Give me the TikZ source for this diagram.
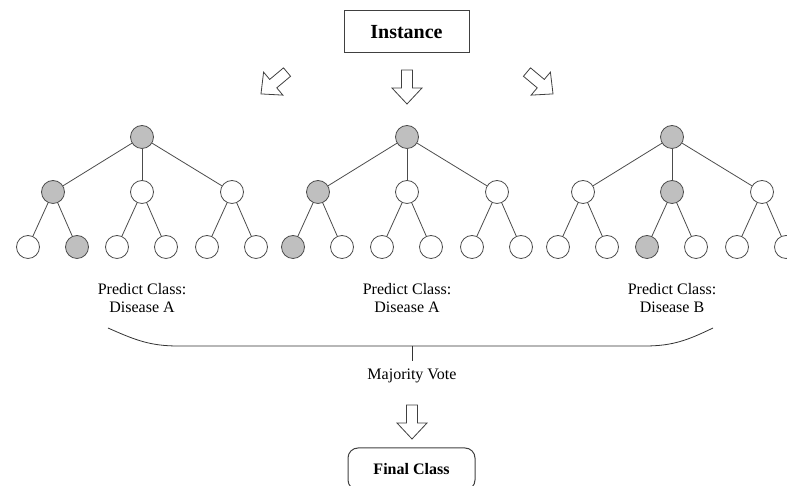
\documentclass[tikz,border=0pt]{standalone}
\usepackage{fontspec}
\setmainfont{Liberation Serif}
\begin{document}
\begin{tikzpicture}[x=1pt,y=1pt,
  tn/.style={circle,draw=black!70,line width=0.8pt,minimum size=23pt,inner sep=0pt},
  edge/.style={draw=black!70,line width=0.8pt},
  lbl/.style={font=\fontsize{16}{18}\selectfont,align=center,inner sep=0pt},
  barrow/.style={draw=black!75,line width=0.8pt,fill=white,line join=miter},
  boxst/.style={draw=black!75,line width=1pt,inner sep=0pt}
]
\useasboundingbox (0,0) rectangle (787,486);
\clip (0,0) rectangle (787,486);

\newcommand\blockarrow[3]{%
  \draw[barrow,shift={(#1,#2)},rotate=#3]
    (-17,-5.5) -- (1,-5.5) -- (1,-15) -- (17,0) -- (1,15) -- (1,5.5) -- (-17,5.5) -- cycle;}

% Instance box
\node[boxst,minimum width=125pt,minimum height=42pt,font=\bfseries\fontsize{20}{24}\selectfont] (inst) at (406.5,454) {Instance};

% block arrows at top
\blockarrow{274}{403}{-140}
\blockarrow{407}{399}{-90}
\blockarrow{540}{403}{-40}

% trees
\foreach \t/\cx/\hm/\hl/\dis in {1/142/1/2/A, 2/407/1/1/A, 3/672/2/3/B} {
  \node[tn,fill=black!25] (t\t r) at (\cx,349) {};
  \foreach \m/\dx in {1/-89,2/0,3/90} {
    \ifnum\m=\hm \def\ff{black!25}\else\def\ff{white}\fi
    \node[tn,fill=\ff] (t\t m\m) at (\cx+\dx,294) {};
    \draw[edge] (t\t r) -- (t\t m\m);
  }
  \foreach \l/\dx/\p in {1/-114/1,2/-65/1,3/-25/2,4/24/2,5/65/3,6/114/3} {
    \ifnum\l=\hl \def\ff{black!25}\else\def\ff{white}\fi
    \node[tn,fill=\ff] (t\t l\l) at (\cx+\dx,239) {};
    \draw[edge] (t\t m\p) -- (t\t l\l);
  }
  \node[lbl] (p\t) at (\cx,188) {Predict Class:\\Disease \dis};
}

% brace
\coordinate (bl) at (108,158);
\coordinate (br) at (713,158);
\coordinate (bt) at (412,140);
\coordinate (bb) at (412,125);
\draw[black!80,line width=0.8pt] (bl) .. controls (135,146) and (150,140) .. (178,140)
  -- (645,140) .. controls (673,140) and (688,146) .. (br);
\draw[black!80,line width=0.8pt] (bt) -- (bb);

\node[lbl] (mv) at (412,110) {Majority Vote};

\blockarrow{412}{64}{-90}

\node[boxst,rounded corners=10pt,minimum width=127pt,minimum height=42pt,font=\bfseries\fontsize{16}{19}\selectfont] (fc) at (411.5,17) {Final Class};
\end{tikzpicture}
\end{document}
